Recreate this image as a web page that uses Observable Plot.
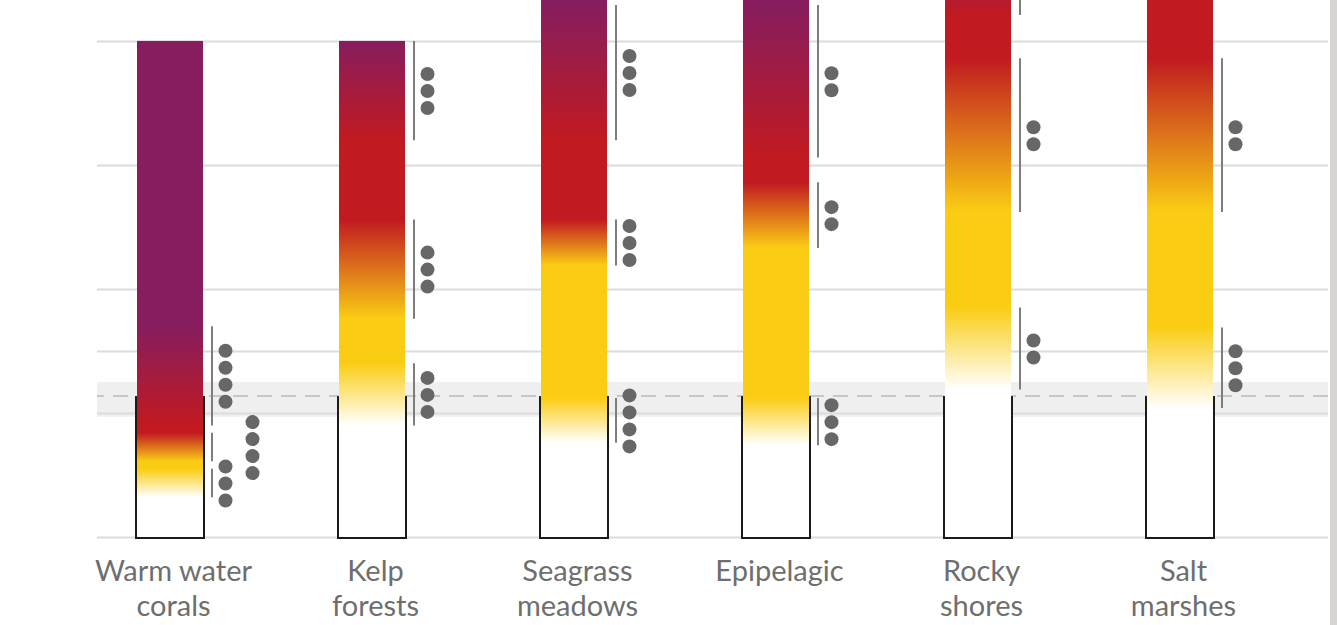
<!DOCTYPE html>
<html>
<head>
<meta charset="utf-8">
<script src="https://cdn.jsdelivr.net/npm/d3@7"></script>
<script src="https://cdn.jsdelivr.net/npm/@observablehq/plot@0.6"></script>
<style>
  html, body { margin: 0; padding: 0; background: #ffffff; }
  #wrap { position: relative; width: 1337px; height: 625px; overflow: hidden; background: #ffffff; }
  #edge { position: absolute; left: 1330px; top: 0; width: 7px; height: 625px; background: #d8d4d2; }
</style>
</head>
<body>
<div id="wrap"><div id="chart"></div><div id="edge"></div></div>
<script>
// ---- data (°C of warming) ----
const ecosystems = ["Warm water\ncorals", "Kelp\nforests", "Seagrass\nmeadows", "Epipelagic", "Rocky\nshores", "Salt\nmarshes"];
const emberTop = [4.0, 4.0, 5.0, 5.0, 5.0, 5.0];
// [start, end, confidence dots]
const whiteToYellow = [[0.32, 0.55, 3], [0.90, 1.40, 3], [0.76, 1.12, 4], [0.74, 1.12, 3], [1.19, 1.85, 2], [1.04, 1.69, 3]];
const yellowToRed   = [[0.61, 0.84, 4], [1.76, 2.56, 3], [2.19, 2.56, 3], [2.33, 2.86, 2], [2.62, 3.86, 2], [2.62, 3.86, 2]];
const redToPurple   = [[0.90, 1.70, 4], [3.20, 4.00, 3], [3.20, 4.29, 3], [3.06, 4.29, 2], [4.21, 4.75, 2], null];
const gridValues = [0, 1, 1.5, 2, 3, 4];
const presentBand = [0.97, 1.25];
const presentLine = [1.14];
const outlineTop = 1.12;
const yMax = 4.33;

// ---- styling / layout ----
const levelColors = ["#ffffff", "#facd14", "#c11a20", "#871d5e"];
const sideColumn = new Set(["Warm water\ncorals|1"]);

const embers = ecosystems.map((eco, i) => ({eco, top: emberTop[i], id: "ember" + i, fillRef: "url(#ember" + i + ")"}));
const kinds = [whiteToYellow, yellowToRed, redToPurple];
const transitions = [];
ecosystems.forEach((eco, i) => kinds.forEach((arr, k) => {
  const t = arr[i];
  if (!t) return;
  transitions.push({eco, i, k, lo: t[0], hi: t[1], conf: t[2]});
}));
const dotRows = [];
transitions.forEach(t => {
  for (let j = 0; j < t.conf; j++) {
    dotRows.push({eco: t.eco, mid: (t.lo + t.hi) / 2, o: j - (t.conf - 1) / 2, side: sideColumn.has(t.eco + "|" + t.k)});
  }
});
const dotMarks = d3.groups(dotRows, d => d.o, d => d.side).flatMap(([o, sub]) =>
  sub.map(([side, rows]) => Plot.dot(rows, {x: "eco", y: "mid", r: 7, fill: "#676767", stroke: "none", dy: o * 17, dx: side ? 82 : 55, clip: true}))
);

const plot = Plot.plot({
  width: 1337,
  height: 625,
  marginLeft: 97,
  marginRight: 9,
  marginTop: 0,
  marginBottom: 88,
  x: {domain: ecosystems, paddingInner: 0.6746, paddingOuter: 0.372, align: 0.257, axis: null},
  y: {domain: [0, yMax], axis: null},
  color: {type: "identity"},
  marks: [
    Plot.rect([presentBand], {y1: d => d[0], y2: d => d[1], fill: "#efefef"}),
    Plot.ruleY(gridValues, {stroke: "#dcdcdc", strokeWidth: 2}),
    Plot.ruleY(presentLine, {stroke: "#c6c6c6", strokeWidth: 2, strokeDasharray: "15,9", strokeDashoffset: 8}),
    Plot.barY(embers, {x: "eco", y1: 0, y2: outlineTop, fill: "#ffffff", stroke: "#1a1a1a", strokeWidth: 4}),
    Plot.barY(embers, {x: "eco", y1: 0, y2: "top", fill: "fillRef", clip: true}),
    Plot.ruleX(transitions, {x: "eco", y1: "lo", y2: "hi", dx: 41.5, stroke: "#7d7d7d", strokeWidth: 2, clip: true}),
    ...dotMarks,
    Plot.text(embers, {x: "eco", y: 0, text: "eco", lineAnchor: "top", dy: 19, dx: 3, fontSize: 29, lineHeight: 1.2, fill: "#6e6e6e", fontFamily: "Lato, 'Open Sans', sans-serif"})
  ]
});

// gradients for the embers (offsets in data units along each bar)
const defs = d3.select(plot).insert("defs", ":first-child");
embers.forEach((e, i) => {
  const stops = [{t: 0, c: levelColors[0]}];
  kinds.forEach((arr, k) => {
    const t = arr[i];
    if (!t) return;
    stops.push({t: t[0], c: levelColors[k]}, {t: t[1], c: levelColors[k + 1]});
  });
  const g = defs.append("linearGradient").attr("id", e.id)
    .attr("x1", 0).attr("y1", 1).attr("x2", 0).attr("y2", 0);
  stops.forEach(s => g.append("stop")
    .attr("offset", Math.max(0, Math.min(1, s.t / e.top)))
    .attr("stop-color", s.c));
});

document.getElementById("chart").appendChild(plot);
</script>
</body>
</html>
